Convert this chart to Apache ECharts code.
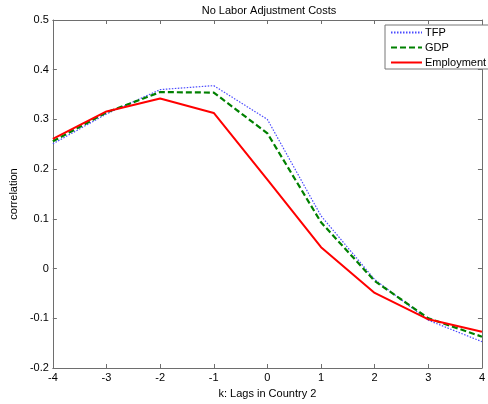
<!DOCTYPE html>
<html><head><meta charset="utf-8">
<script src="https://cdn.jsdelivr.net/npm/echarts@6/dist/echarts.min.js"></script>
<style>html,body{margin:0;padding:0;background:#fff}#c{width:488px;height:404px}</style>
</head><body><div id="c"></div>
<script>
const lags = [-4, -3, -2, -1, 0, 1, 2, 3, 4];
const tfp = [0.251, 0.311, 0.360, 0.368, 0.300, 0.106, -0.022, -0.104, -0.147];
const gdp = [0.256, 0.314, 0.355, 0.354, 0.272, 0.093, -0.025, -0.100, -0.137];
const employment = [0.261, 0.316, 0.342, 0.313, 0.179, 0.043, -0.049, -0.102, -0.127];
const yTicks = [-0.2, -0.1, 0, 0.1, 0.2, 0.3, 0.4, 0.5];

const font = 'Liberation Sans, Arial, sans-serif';
const axisColor = '#6e6e6e';
const pair = arr => lags.map((k, i) => [k, arr[i]]);
const grid = {left: 44, top: 20, width: 445.6, height: 352, containLabel: false};
const chart = echarts.init(document.getElementById('c'), null, {renderer: 'canvas'});
const baseX = {
  type: 'value', min: -4, max: 4, interval: 1,
  axisLine: {onZero: false, lineStyle: {color: axisColor, width: 1}},
  axisTick: {inside: true, length: 4, lineStyle: {color: axisColor}},
  splitLine: {show: false}
};
const baseY = {
  type: 'value', min: -0.2, max: 0.5, interval: 0.1,
  axisLine: {onZero: false, lineStyle: {color: axisColor, width: 1}},
  axisTick: {inside: true, length: 4, lineStyle: {color: axisColor}},
  splitLine: {show: false}
};
chart.setOption({
  animation: false,
  backgroundColor: '#fff',
  title: {text: 'No Labor Adjustment Costs', left: 264, top: 0, textAlign: 'center',
    textStyle: {fontFamily: font, fontSize: 11, fontWeight: 'normal', color: '#000'}},
  grid: grid,
  legend: {
    orient: 'vertical', left: 385, top: 25, width: 102,
    itemWidth: 31, itemHeight: 10, itemGap: 4,
    padding: [2, 4, 1, 5],
    borderColor: '#777', borderWidth: 1, backgroundColor: '#fff',
    itemStyle: {opacity: 0},
    textStyle: {fontFamily: font, fontSize: 11, color: '#000', padding: [0, 0, 0, -2], lineHeight: 10},
    data: ['TFP', 'GDP', 'Employment']
  },
  xAxis: [
    Object.assign({}, baseX, {
      position: 'bottom',
      name: 'k: Lags in Country 2', nameLocation: 'middle', nameGap: 20,
      nameTextStyle: {fontFamily: font, fontSize: 11, color: '#000'},
      axisLabel: {fontFamily: font, fontSize: 11, color: '#000', margin: 4,
        formatter: v => String(v)}
    }),
    Object.assign({}, baseX, {position: 'top', axisLabel: {show: false}})
  ],
  yAxis: [
    Object.assign({}, baseY, {
      position: 'left',
      name: 'correlation', nameLocation: 'middle', nameGap: 27, nameRotate: 90,
      nameTextStyle: {fontFamily: font, fontSize: 11, color: '#000'},
      axisLabel: {fontFamily: font, fontSize: 11, color: '#000', margin: 4,
        formatter: v => {
          const t = yTicks.find(x => Math.abs(x - v) < 1e-9);
          return t === undefined ? '' : (Math.round(t * 10) / 10).toString();
        }}
    }),
    Object.assign({}, baseY, {position: 'right', axisLabel: {show: false}})
  ],
  series: [
    {name: 'TFP', type: 'line', data: pair(tfp), showSymbol: false, symbol: 'none',
      color: '#4a4aff', lineStyle: {color: '#4a4aff', width: 1.2, type: [1.5, 1.5]}},
    {name: 'GDP', type: 'line', data: pair(gdp), showSymbol: false, symbol: 'none',
      color: '#008000', lineStyle: {color: '#008000', width: 2.2, type: [6, 3]}},
    {name: 'Employment', type: 'line', data: pair(employment), showSymbol: false, symbol: 'none',
      color: '#ff0000', lineStyle: {color: '#ff0000', width: 2}}
  ]
});
</script></body></html>
